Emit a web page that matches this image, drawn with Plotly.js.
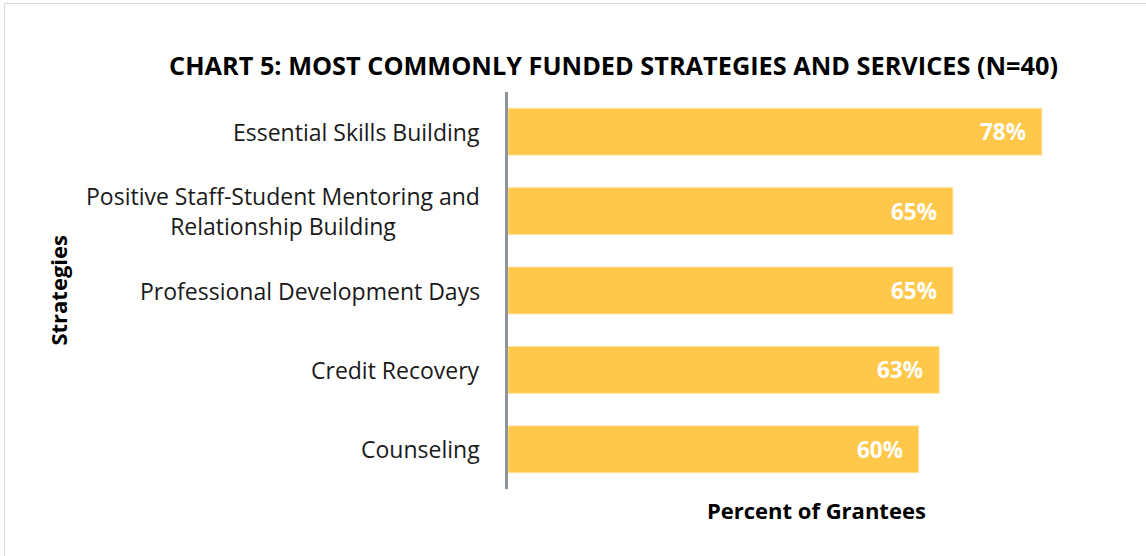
<!DOCTYPE html>
<html>
<head>
<meta charset="utf-8">
<script src="https://cdn.plot.ly/plotly-3.0.1.min.js"></script>
<style>
html,body{margin:0;padding:0;background:#fff;}
#chart{width:1146px;height:556px;}
</style>
</head>
<body>
<div id="chart"></div>
<script>
const categories = [
  "Essential Skills Building",
  "Positive Staff-Student Mentoring and<br>Relationship Building",
  "Professional Development Days",
  "Credit Recovery",
  "Counseling"
];
const values = [78, 65, 65, 63, 60];
const valueLabels = ["78%", "65%", "65%", "63%", "60%"];
const titleText = "CHART 5: MOST COMMONLY FUNDED STRATEGIES AND SERVICES (N=40)";
const xTitle = "Percent of Grantees";
const yTitle = "Strategies";

const FONT = "'Open Sans', 'Noto Sans', sans-serif";
const BAR = "#FFC84A";

const trace = {
  type: "bar",
  orientation: "h",
  x: values,
  y: categories,
  marker: {color: BAR, line: {color: "#FFE0A0", width: 1}},
  hoverinfo: "none",
  showlegend: false
};

const annotations = [];
categories.forEach((c, i) => {
  annotations.push({
    xref: "paper", yref: "y", x: 0, y: c, xanchor: "right", yanchor: "middle",
    xshift: -26, text: c, showarrow: false, align: "center",
    font: {family: FONT, size: 23, color: "#1a1a1a"}
  });
  annotations.push({
    xref: "x", yref: "y", x: values[i], y: c, xanchor: "right", yanchor: "middle",
    xshift: -14, text: "<b>" + valueLabels[i] + "</b>", showarrow: false,
    font: {family: FONT, size: 22.5, color: "#ffffff"}
  });
});
annotations.push({
  xref: "paper", yref: "paper", x: -0.732, y: 0.5, xanchor: "center", yanchor: "middle",
  textangle: -90, text: "<b>" + yTitle + "</b>", showarrow: false,
  font: {family: FONT, size: 22, color: "#000"}
});
annotations.push({
  xref: "paper", yref: "paper", x: 0.5, y: 0, yshift: -21, xanchor: "center", yanchor: "middle",
  text: "<b>" + xTitle + "</b>", showarrow: false,
  font: {family: FONT, size: 22, color: "#000"}
});

const layout = {
  width: 1146, height: 556,
  margin: {l: 508, r: 22, t: 92, b: 67},
  paper_bgcolor: "#fff", plot_bgcolor: "#fff",
  title: {
    text: "<b>" + titleText + "</b>",
    x: 0.5354, xref: "container", xanchor: "center",
    y: 1 - 66/556, yref: "container", yanchor: "middle",
    font: {family: FONT, size: 25.3, color: "#000"}
  },
  bargap: 0.41,
  xaxis: {range: [0, 90], showgrid: false, zeroline: false, showticklabels: false, showline: false, ticks: "", fixedrange: true},
  yaxis: {autorange: "reversed", showgrid: false, zeroline: false, showticklabels: false, ticks: "",
          showline: true, linecolor: "#8C939B", linewidth: 3, fixedrange: true},
  annotations: annotations,
  shapes: [{
    type: "rect", xref: "paper", yref: "paper",
    x0: (4.5 - 508)/616, x1: (1160 - 508)/616,
    y0: (489 - 570)/397, y1: (489 - 3.5)/397,
    line: {color: "#D9D9D9", width: 1}, fillcolor: "rgba(0,0,0,0)", layer: "below"
  }]
};

Plotly.newPlot("chart", [trace], layout, {displayModeBar: false, staticPlot: true});
</script>
</body>
</html>
